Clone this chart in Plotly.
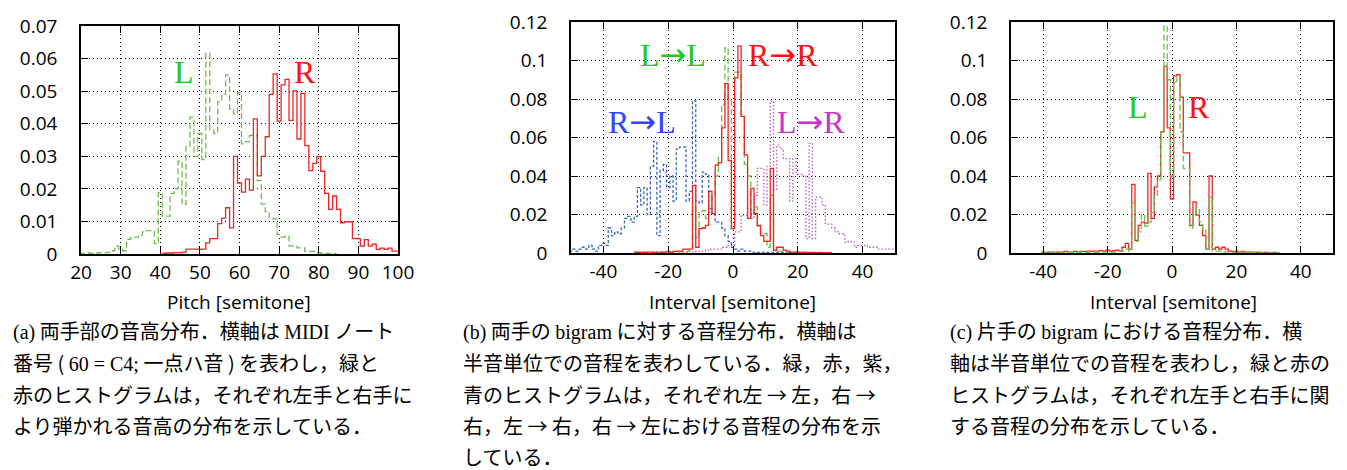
import plotly.graph_objects as go

# ---------------- data ----------------
# (a) pitch histograms (bin centres = MIDI note numbers)
pitch_L = list(range(20, 85))
prob_L = [0.0002, 0.0002, 0.0003, 0.0002, 0.0003, 0.0004, 0.0004, 0.0005, 0.0010, 0.0024,
          0.0016, 0.0010, 0.0045, 0.0050, 0.0052, 0.0058, 0.0068, 0.0072, 0.0072, 0.0032,
          0.0188, 0.0116, 0.0116, 0.0186, 0.0200, 0.0285, 0.0152, 0.0330, 0.0420, 0.0300,
          0.0370, 0.0290, 0.0617, 0.0380, 0.0370, 0.0467, 0.0490, 0.0550, 0.0446, 0.0430,
          0.0495, 0.0338, 0.0345, 0.0364, 0.0364, 0.0225, 0.0153, 0.0130, 0.0111, 0.0108,
          0.0060, 0.0052, 0.0055, 0.0025, 0.0024, 0.0019, 0.0019, 0.0008, 0.0008, 0.0008,
          0.0004, 0.0003, 0.0002, 0.0002, 0.0001]
pitch_R = list(range(41, 101))
prob_R = [0.0002, 0.0003, 0.0003, 0.0004, 0.0004, 0.0006, 0.0015, 0.0015, 0.0015, 0.0014,
          0.0015, 0.0034, 0.0047, 0.0047, 0.0093, 0.0110, 0.0142, 0.0080, 0.0300, 0.0218,
          0.0190, 0.0230, 0.0196, 0.0415, 0.0240, 0.0300, 0.0360, 0.0490, 0.0553, 0.0408,
          0.0519, 0.0536, 0.0410, 0.0501, 0.0353, 0.0493, 0.0333, 0.0256, 0.0278, 0.0299,
          0.0254, 0.0186, 0.0137, 0.0178, 0.0137, 0.0096, 0.0099, 0.0099, 0.0047, 0.0047,
          0.0024, 0.0044, 0.0024, 0.0030, 0.0014, 0.0018, 0.0014, 0.0018, 0.0009, 0.0009]

# (b) interval histograms for two-hand bigrams
iv_RL = list(range(-50, 21))
prob_RL = [0.001, 0.002, 0.001, 0.002, 0.003, 0.002, 0.004, 0.002, 0.001, 0.004,
           0.005, 0.004, 0.013, 0.009, 0.011, 0.010, 0.013, 0.018, 0.019, 0.016,
           0.019, 0.034, 0.025, 0.034, 0.020, 0.045, 0.058, 0.009, 0.043, 0.046,
           0.034, 0.040, 0.027, 0.054, 0.055, 0.055, 0.027, 0.032, 0.079, 0.027,
           0.026, 0.042, 0.041, 0.023, 0.020, 0.016, 0.016, 0.013, 0.009, 0.006,
           0.003, 0.002, 0.001, 0.002, 0.001, 0.001, 0.0005, 0.0005, 0.0003, 0.0005,
           0.0003, 0.0003, 0.0003, 0.0002, 0.0003, 0.0002, 0.0002, 0.0003, 0.0002, 0.0002,
           0.0003]
iv_LR = list(range(-15, 51))
prob_LR = [0.0005, 0.0005, 0.0008, 0.0005, 0.0008, 0.001, 0.001, 0.0015, 0.002, 0.002,
           0.002, 0.002, 0.003, 0.003, 0.004, 0.004, 0.011, 0.011, 0.0197, 0.0197,
           0.023, 0.018, 0.030, 0.044, 0.044, 0.025, 0.045, 0.079, 0.033, 0.056,
           0.054, 0.049, 0.049, 0.027, 0.049, 0.041, 0.041, 0.040, 0.0075, 0.057,
           0.0075, 0.029, 0.029, 0.025, 0.015, 0.015, 0.013, 0.011, 0.010, 0.010,
           0.0057, 0.006, 0.0057, 0.003, 0.004, 0.004, 0.004, 0.003, 0.003, 0.003,
           0.002, 0.002, 0.002, 0.002, 0.002, 0.002]
iv_RR = list(range(-30, 31))
prob_RR = [0.0005, 0.0003, 0.0005, 0.0003, 0.0005, 0.0005, 0.0003, 0.0005, 0.0005, 0.0005,
           0.0008, 0.0005, 0.0008, 0.001, 0.001, 0.002, 0.002, 0.002, 0.035, 0.003,
           0.0127, 0.013, 0.0144, 0.032, 0.0205, 0.0457, 0.047, 0.065, 0.088, 0.048,
           0.0127, 0.091, 0.1075, 0.071, 0.051, 0.018, 0.0336, 0.0205, 0.0144, 0.009,
           0.006, 0.006, 0.044, 0.0014, 0.003, 0.003, 0.0015, 0.001, 0.0005, 0.0005,
           0.0005, 0.0003, 0.0005, 0.0003, 0.0003, 0.0003, 0.0002, 0.0003, 0.0002, 0.0002,
           0.0002]
iv_LL = list(range(-30, 31))
prob_LL = [0.0004, 0.0003, 0.0004, 0.0003, 0.0004, 0.0004, 0.0003, 0.0004, 0.0004, 0.0004,
           0.0005, 0.0004, 0.0005, 0.0006, 0.0006, 0.001, 0.001, 0.002, 0.024, 0.008,
           0.021, 0.022, 0.018, 0.022, 0.030, 0.040, 0.050, 0.077, 0.1066, 0.080,
           0.0127, 0.094, 0.094, 0.072, 0.046, 0.040, 0.020, 0.024, 0.014, 0.010,
           0.010, 0.003, 0.030, 0.0015, 0.001, 0.001, 0.0004, 0.0004, 0.0003, 0.0004,
           0.0003, 0.0003, 0.0003, 0.0002, 0.0003, 0.0002, 0.0002, 0.0002, 0.0002, 0.0002,
           0.0002]

# (c) interval histograms for one-hand bigrams
iv_c = list(range(-40, 34))
prob_c_R = [0.0005, 0.0003, 0.0005, 0.0005, 0.0003, 0.0005, 0.0005, 0.0008, 0.0005, 0.0005,
            0.0008, 0.0005, 0.0008, 0.0008, 0.001, 0.0008, 0.001, 0.001, 0.0012, 0.001,
            0.0015, 0.001, 0.0012, 0.0015, 0.001, 0.003, 0.005, 0.002, 0.0357, 0.0066,
            0.0144, 0.016, 0.0155, 0.0414, 0.018, 0.0344, 0.040, 0.063, 0.097, 0.065,
            0.028, 0.092, 0.0927, 0.081, 0.052, 0.052, 0.0144, 0.0266, 0.0197, 0.0144,
            0.009, 0.002, 0.040, 0.002, 0.003, 0.002, 0.003, 0.002, 0.001, 0.0008,
            0.001, 0.0005, 0.0008, 0.0005, 0.0005, 0.0005, 0.0003, 0.0005, 0.0003, 0.0003,
            0.0003, 0.0002, 0.0003, 0.0002]
prob_c_L = [0.0003, 0.0002, 0.0003, 0.0003, 0.0002, 0.0003, 0.0003, 0.0004, 0.0003, 0.0003,
            0.0004, 0.0003, 0.0004, 0.0004, 0.0005, 0.0004, 0.0005, 0.0005, 0.0006, 0.0005,
            0.0006, 0.0005, 0.0006, 0.0008, 0.0008, 0.001, 0.002, 0.001, 0.026, 0.006,
            0.011, 0.020, 0.014, 0.016, 0.021, 0.030, 0.038, 0.063, 0.118, 0.090,
            0.040, 0.089, 0.091, 0.063, 0.044, 0.044, 0.013, 0.020, 0.023, 0.016,
            0.012, 0.002, 0.029, 0.001, 0.001, 0.001, 0.0006, 0.0005, 0.0005, 0.0004,
            0.0004, 0.0003, 0.0004, 0.0003, 0.0003, 0.0003, 0.0002, 0.0003, 0.0002, 0.0002,
            0.0002, 0.0002, 0.0002, 0.0002]

# axis ticks
ticks_a_x = [20, 30, 40, 50, 60, 70, 80, 90, 100]
ticks_a_y = [0, 0.01, 0.02, 0.03, 0.04, 0.05, 0.06, 0.07]
ticktext_a_y = ["0", "0.01", "0.02", "0.03", "0.04", "0.05", "0.06", "0.07"]
ticks_bc_x = [-40, -20, 0, 20, 40]
ticktext_bc_x = ["-40", "-20", "0", "20", "40"]
ticks_bc_y = [0, 0.02, 0.04, 0.06, 0.08, 0.10, 0.12]
ticktext_bc_y = ["0", "0.02", "0.04", "0.06", "0.08", "0.1", "0.12"]

SER = '<span style="font-family:Liberation Serif">'
captions_a = [SER + '(a)</span> 両手部の音高分布．横軸は ' + SER + 'MIDI</span> ノート',
              '番号 ( ' + SER + '60 = C4;</span> 一点ハ音 ) を表わし，緑と',
              '赤のヒストグラムは，それぞれ左手と右手に',
              'より弾かれる音高の分布を示している．']
captions_b = [SER + '(b)</span> 両手の ' + SER + 'bigram</span> に対する音程分布．横軸は',
              '半音単位での音程を表わしている．緑，赤，紫，',
              '青のヒストグラムは，それぞれ左 → 左，右 →',
              '右，左 → 右，右 → 左における音程の分布を示',
              'している．']
captions_c = [SER + '(c)</span> 片手の ' + SER + 'bigram</span> における音程分布．横',
              '軸は半音単位での音程を表わし，緑と赤の',
              'ヒストグラムは，それぞれ左手と右手に関',
              'する音程の分布を示している．']

# ---------------- styling ----------------
W, H = 1347, 470
GREEN = "#6dbf4c"
RED = "#ee2424"
BLUE = "#3a66b8"
MAGENTA = "#bb55c0"
TICKFONT = dict(family="Open Sans", size=19, color="black")


def steps(centres, vals):
    xs = [c - 0.5 for c in centres] + [centres[-1] + 0.5]
    ys = list(vals) + [vals[-1]]
    return xs, ys


fig = go.Figure()


def add(centres, vals, color, dash, xa, ya, width=1.3):
    xs, ys = steps(centres, vals)
    fig.add_trace(go.Scatter(x=xs, y=ys, mode="lines", line_shape="hv",
                             line=dict(color=color, width=width, dash=dash),
                             xaxis=xa, yaxis=ya, showlegend=False, hoverinfo="skip"))


add(pitch_L, prob_L, GREEN, "6px,3px", "x", "y")
add(pitch_R, prob_R, RED, "solid", "x", "y")

add(iv_RL, prob_RL, BLUE, "3px,2px", "x2", "y2")
add(iv_LR, prob_LR, MAGENTA, "1.5px,2px", "x2", "y2")
add(iv_LL, prob_LL, GREEN, "6px,3px", "x2", "y2")
add(iv_RR, prob_RR, RED, "solid", "x2", "y2")

add(iv_c, prob_c_R, RED, "solid", "x3", "y3")
add(iv_c, prob_c_L, GREEN, "6px,3px", "x3", "y3")


def px_x(p):
    return p / W


def px_y(p):
    return 1 - p / H


common = dict(showline=True, linecolor="black", linewidth=1.5, mirror="ticks",
              ticks="inside", ticklen=7, tickcolor="black", tickwidth=1.2,
              showgrid=True, gridcolor="black", gridwidth=1, griddash="1px,3px",
              zeroline=False, tickfont=TICKFONT, automargin=False)
XSO = 0
YSO = 18

fig.update_layout(
    width=W, height=H, margin=dict(l=0, r=0, t=0, b=0, autoexpand=False),
    paper_bgcolor="white", plot_bgcolor="white",
    xaxis=dict(domain=[px_x(73), px_x(390)], range=[20, 100], tickvals=ticks_a_x,
               anchor="y", ticklabelstandoff=XSO, **common),
    yaxis=dict(domain=[px_y(246), px_y(18)], range=[0, 0.07], tickvals=ticks_a_y,
               ticktext=ticktext_a_y, anchor="x", ticklabelstandoff=YSO, **common),
    xaxis2=dict(domain=[px_x(563), px_x(887)], range=[-50, 50], tickvals=ticks_bc_x,
                ticktext=ticktext_bc_x, anchor="y2", ticklabelstandoff=XSO, **common),
    yaxis2=dict(domain=[px_y(245), px_y(14)], range=[0, 0.12], tickvals=ticks_bc_y,
                ticktext=ticktext_bc_y, anchor="x2", ticklabelstandoff=YSO, **common),
    xaxis3=dict(domain=[px_x(1003), px_x(1325)], range=[-50, 50], tickvals=ticks_bc_x,
                ticktext=ticktext_bc_x, anchor="y3", ticklabelstandoff=XSO, **common),
    yaxis3=dict(domain=[px_y(245), px_y(14)], range=[0, 0.12], tickvals=ticks_bc_y,
                ticktext=ticktext_bc_y, anchor="x3", ticklabelstandoff=YSO, **common),
)

SERIF = "Liberation Serif"
ARROW = '<span style="font-family:DejaVu Sans">→</span>'


def label(text, x, y, color, size=32):
    fig.add_annotation(text=text, x=px_x(x), y=px_y(y), xref="paper", yref="paper",
                       showarrow=False, xanchor="center", yanchor="middle",
                       font=dict(family=SERIF, size=size, color=color))


label("L", 176, 64, "#22c81e")
label("R", 297, 64, "#ff1010")
label("L" + ARROW + "L", 665, 47, "#22c81e")
label("R" + ARROW + "R", 775, 47, "#ff1010")
label("R" + ARROW + "L", 634, 114, "#3344ff")
label("L" + ARROW + "R", 803, 114, "#cc33cc")
label("L", 1130, 99, "#22c81e")
label("R", 1191, 99, "#ff1010")

for text, cx in [("Pitch [semitone]", 231), ("Interval [semitone]", 725),
                 ("Interval [semitone]", 1165)]:
    fig.add_annotation(text=text, x=px_x(cx), y=px_y(294), xref="paper", yref="paper",
                       showarrow=False, xanchor="center", yanchor="middle",
                       font=dict(family="Open Sans", size=19, color="black"))

line_y = [322, 354, 386, 417, 448]
for lines, x0 in [(captions_a, 4), (captions_b, 454), (captions_c, 941)]:
    for i, t in enumerate(lines):
        fig.add_annotation(text=t, x=px_x(x0), y=px_y(line_y[i]), xref="paper",
                           yref="paper", showarrow=False, xanchor="left",
                           yanchor="middle", borderpad=0,
                           font=dict(family="Noto Sans CJK JP", size=20, color="black"))

fig.write_html("out.html")
